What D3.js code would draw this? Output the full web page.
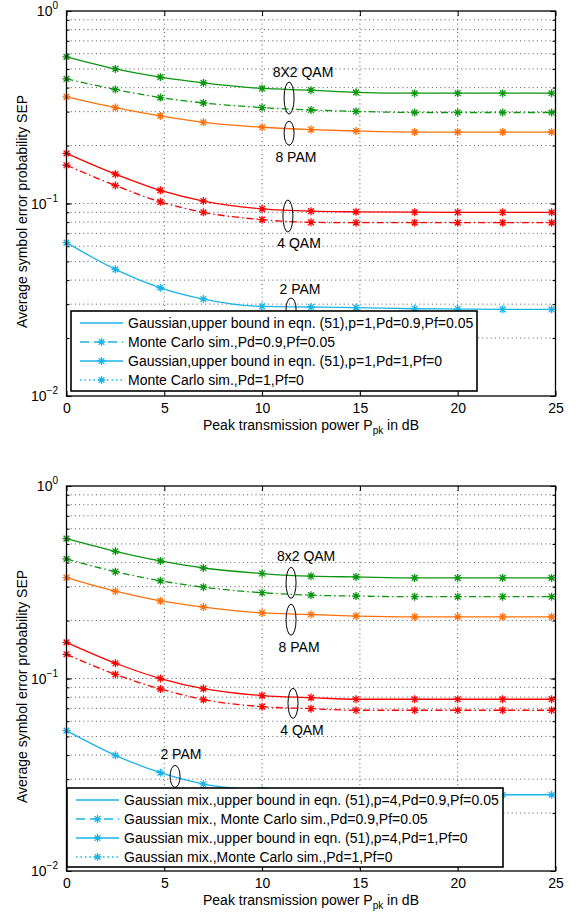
<!DOCTYPE html>
<html><head><meta charset="utf-8">
<script src="https://cdn.jsdelivr.net/npm/d3@7"></script>
<style>body{margin:0;background:#fff}svg{display:block;font-family:"Liberation Sans",Arial,sans-serif}</style>
</head><body><svg id="c" width="576" height="912"></svg>
<script>
// ---------- data ----------
const xMarks = [0, 2.5, 4.8, 7, 10, 12.5, 14.8, 17.8, 20, 22.3, 24.8];
const xTicks = [0, 5, 10, 15, 20, 25];
const yTicks = [0.01, 0.1, 1];
const yTickExp = ["\u22122", "\u22121", "0"];

// top panel (Gaussian)
const topQam8x2Bound = [0.578, 0.50, 0.453, 0.423, 0.396, 0.388, 0.378, 0.374, 0.374, 0.374, 0.374];
const topQam8x2MC    = [0.444, 0.391, 0.355, 0.333, 0.315, 0.306, 0.301, 0.297, 0.297, 0.297, 0.297];
const topPam8        = [0.358, 0.315, 0.285, 0.264, 0.249, 0.242, 0.238, 0.235, 0.235, 0.235, 0.235];
const topQam4Bound   = [0.182, 0.142, 0.117, 0.103, 0.0938, 0.0912, 0.0905, 0.0901, 0.090, 0.090, 0.090];
const topQam4MC      = [0.158, 0.124, 0.102, 0.090, 0.0824, 0.0798, 0.0795, 0.0795, 0.0795, 0.0795, 0.0795];
const topPam2        = [0.0626, 0.0455, 0.0365, 0.0319, 0.0292, 0.029, 0.0288, 0.0284, 0.0283, 0.0282, 0.0282];

// bottom panel (Gaussian mixture)
const botQam8x2Bound = [0.533, 0.458, 0.408, 0.375, 0.351, 0.340, 0.337, 0.333, 0.333, 0.333, 0.333];
const botQam8x2MC    = [0.418, 0.359, 0.322, 0.298, 0.279, 0.271, 0.268, 0.266, 0.266, 0.266, 0.266];
const botPam8        = [0.334, 0.284, 0.253, 0.235, 0.219, 0.215, 0.211, 0.209, 0.209, 0.209, 0.209];
const botQam4Bound   = [0.154, 0.120, 0.100, 0.0886, 0.0815, 0.0796, 0.078, 0.078, 0.078, 0.078, 0.078];
const botQam4MC      = [0.1336, 0.105, 0.0882, 0.0777, 0.0714, 0.0697, 0.0684, 0.0684, 0.0684, 0.0684, 0.0684];
const botPam2        = [0.0536, 0.0399, 0.0324, 0.0283, 0.0263, 0.0255, 0.0252, 0.025, 0.025, 0.0249, 0.0249];

const topLegend = [
  "Gaussian,upper bound in eqn. (51),p=1,Pd=0.9,Pf=0.05",
  "Monte Carlo sim.,Pd=0.9,Pf=0.05",
  "Gaussian,upper bound in eqn. (51),p=1,Pd=1,Pf=0",
  "Monte Carlo sim.,Pd=1,Pf=0"];
const botLegend = [
  "Gaussian mix.,upper bound in eqn. (51),p=4,Pd=0.9,Pf=0.05",
  "Gaussian mix., Monte Carlo sim.,Pd=0.9,Pf=0.05",
  "Gaussian mix.,upper bound in eqn. (51),p=4,Pd=1,Pf=0",
  "Gaussian mix.,Monte Carlo sim.,Pd=1,Pf=0"];

const topLabels = ["8X2 QAM", "8 PAM", "4 QAM", "2 PAM"];
const botLabels = ["8x2 QAM", "8 PAM", "4 QAM", "2 PAM"];

// ---------- styles ----------
const GREEN = "#0b960f", ORANGE = "#ff700a", RED = "#ff0000", CYAN = "#1bb4e6";
const DASHDOT = "7,3,1.5,3";

const svg = d3.select("#c");

function asterisk(g, x, y, color) {
  const r = 4;
  const d = `M${x-r},${y}L${x+r},${y}M${x},${y-r}L${x},${y+r}` +
            `M${x-r*0.72},${y-r*0.72}L${x+r*0.72},${y+r*0.72}M${x-r*0.72},${y+r*0.72}L${x+r*0.72},${y-r*0.72}`;
  g.append("path").attr("d", d).attr("stroke", color).attr("stroke-width", 1.3).attr("fill", "none");
}

function panel(cfg) {
  const x = d3.scaleLinear().domain([0, 25]).range([66.5, 555.5]);
  const y = d3.scaleLog().domain([0.01, 1]).range([cfg.bottom, cfg.top]);
  const g = svg.append("g");
  const L = 66.5, R = 555.5, T = cfg.top, B = cfg.bottom;

  // grid
  const minor = [];
  for (let e = -2; e < 0; e++) for (let m = 1; m < 10; m++) minor.push(m * Math.pow(10, e));
  const hGrid = minor.filter(v => v > 0.0101 && v < 0.99);
  g.selectAll(null).data(hGrid).enter().append("line")
    .attr("x1", L).attr("x2", R).attr("y1", d => y(d)).attr("y2", d => y(d))
    .attr("stroke", "#444").attr("stroke-width", 0.9).attr("stroke-dasharray", "1,3.2");
  g.selectAll(null).data(xTicks.slice(1, -1)).enter().append("line")
    .attr("y1", T).attr("y2", B).attr("x1", d => x(d)).attr("x2", d => x(d))
    .attr("stroke", "#444").attr("stroke-width", 0.9).attr("stroke-dasharray", "1,3.2");

  // axes (ticks inward)
  const axB = g.append("g").attr("transform", `translate(0,${B})`)
    .call(d3.axisBottom(x).tickValues(xTicks).tickSize(-5).tickPadding(7).tickFormat(d3.format("d")));
  const axT = g.append("g").attr("transform", `translate(0,${T})`)
    .call(d3.axisTop(x).tickValues(xTicks).tickSize(-5).tickFormat(""));
  const axL = g.append("g").attr("transform", `translate(${L},0)`)
    .call(d3.axisLeft(y).tickValues(yTicks).tickSize(-5).tickFormat(""));
  const axLm = g.append("g").attr("transform", `translate(${L},0)`)
    .call(d3.axisLeft(y).tickValues(minor.filter(v => v > 0.0101)).tickSize(-3).tickFormat(""));
  const axR = g.append("g").attr("transform", `translate(${R},0)`)
    .call(d3.axisRight(y).tickValues(yTicks).tickSize(-5).tickFormat(""));
  const axRm = g.append("g").attr("transform", `translate(${R},0)`)
    .call(d3.axisRight(y).tickValues(minor.filter(v => v > 0.0101)).tickSize(-3).tickFormat(""));
  [axB, axT, axL, axLm, axR, axRm].forEach(a => {
    a.select(".domain").remove();
    a.selectAll("line").attr("stroke", "#000").attr("stroke-width", 1);
    a.selectAll("text").attr("font-size", 14).attr("font-family", "Liberation Sans, Arial, sans-serif").attr("fill", "#000");
  });
  axB.selectAll("text").attr("dy", "0.71em");

  // y tick labels with exponent
  yTicks.forEach((v, i) => {
    const t = g.append("text").attr("x", 58).attr("y", y(v) + 5).attr("text-anchor", "end")
      .attr("font-size", 14).attr("fill", "#000");
    t.append("tspan").text("10");
    t.append("tspan").attr("font-size", 10).attr("dy", -7).text(yTickExp[i]);
  });

  // series
  const line = d3.line().x((d, i) => x(xMarks[i])).y(d => y(d)).curve(d3.curveMonotoneX);
  cfg.series.forEach(s => {
    g.append("path").datum(s.values).attr("d", line).attr("fill", "none")
      .attr("stroke", s.color).attr("stroke-width", 1.3)
      .attr("stroke-dasharray", s.dash || null);
    s.values.forEach((v, i) => asterisk(g, x(xMarks[i]), y(v), s.color));
  });

  // box
  g.append("rect").attr("x", L).attr("y", T).attr("width", R - L).attr("height", B - T)
    .attr("fill", "none").attr("stroke", "#000").attr("stroke-width", 1.3);

  // annotations
  cfg.notes.forEach(n => {
    g.append("ellipse").attr("cx", x(n.ex)).attr("cy", y(n.ey)).attr("rx", 5).attr("ry", n.ry)
      .attr("fill", "none").attr("stroke", "#000").attr("stroke-width", 1);
    g.append("text").attr("x", x(n.tx)).attr("y", y(n.ty)).attr("text-anchor", "middle")
      .attr("font-size", 14).attr("fill", "#000").text(n.label);
  });

  // legend
  const lg = cfg.legend;
  const box = g.append("g");
  box.append("rect").attr("x", lg.x0).attr("y", lg.y0).attr("width", lg.x1 - lg.x0).attr("height", lg.y1 - lg.y0)
    .attr("fill", "#fff").attr("stroke", "#000").attr("stroke-width", 1.6);
  const styles = [
    {dash: null, marker: false},
    {dash: "9,5", marker: true},
    {dash: null, marker: true},
    {dash: "1.5,3", marker: true}];
  lg.items.forEach((txt, i) => {
    const ry = lg.y0 + 12 + i * 19;
    box.append("line").attr("x1", lg.x0 + 9).attr("x2", lg.x0 + 52).attr("y1", ry).attr("y2", ry)
      .attr("stroke", CYAN).attr("stroke-width", 1.3).attr("stroke-dasharray", styles[i].dash);
    if (styles[i].marker) asterisk(box, lg.x0 + 30.5, ry, CYAN);
    box.append("text").attr("x", lg.x0 + 57).attr("y", ry + 5).attr("font-size", 14).attr("fill", "#000").text(txt);
  });

  // axis titles
  const xl = g.append("text").attr("x", (L + R) / 2).attr("y", B + 34).attr("text-anchor", "middle")
    .attr("font-size", 14).attr("fill", "#000");
  xl.append("tspan").text("Peak transmission power P");
  xl.append("tspan").attr("font-size", 10).attr("dy", 4).text("pk");
  xl.append("tspan").attr("dy", -4).text(" in dB");
  g.append("text").attr("transform", `translate(27,${(T + B) / 2 + 8}) rotate(-90)`)
    .attr("text-anchor", "middle").attr("font-size", 14).attr("fill", "#000")
    .text("Average symbol error probability SEP");
}

panel({
  top: 11, bottom: 396,
  series: [
    {values: topQam8x2Bound, color: GREEN},
    {values: topQam8x2MC, color: GREEN, dash: DASHDOT},
    {values: topPam8, color: ORANGE},
    {values: topQam4Bound, color: RED},
    {values: topQam4MC, color: RED, dash: DASHDOT},
    {values: topPam2, color: CYAN}],
  notes: [
    {label: topLabels[0], ex: 11.38, ey: 0.353, ry: 16, tx: 12.09, ty: 0.454},
    {label: topLabels[1], ex: 11.38, ey: 0.232, ry: 12, tx: 11.73, ty: 0.164},
    {label: topLabels[2], ex: 11.32, ey: 0.0861, ry: 16, tx: 11.89, ty: 0.0587},
    {label: topLabels[3], ex: 11.48, ey: 0.0283, ry: 11, tx: 11.94, ty: 0.0339}],
  legend: {x0: 71, x1: 477, y0: 311, y1: 391, items: topLegend}
});

panel({
  top: 486, bottom: 871,
  series: [
    {values: botQam8x2Bound, color: GREEN},
    {values: botQam8x2MC, color: GREEN, dash: DASHDOT},
    {values: botPam8, color: ORANGE},
    {values: botQam4Bound, color: RED},
    {values: botQam4MC, color: RED, dash: DASHDOT},
    {values: botPam2, color: CYAN}],
  notes: [
    {label: botLabels[0], ex: 11.48, ey: 0.314, ry: 15.5, tx: 12.25, ty: 0.406},
    {label: botLabels[1], ex: 11.48, ey: 0.202, ry: 15.5, tx: 11.89, ty: 0.137},
    {label: botLabels[2], ex: 11.58, ey: 0.0743, ry: 15, tx: 12.04, ty: 0.0507},
    {label: botLabels[3], ex: 5.55, ey: 0.0310, ry: 11, tx: 5.85, ty: 0.0380}],
  legend: {x0: 67, x1: 503, y0: 788, y1: 867, items: botLegend}
});
</script></body></html>
